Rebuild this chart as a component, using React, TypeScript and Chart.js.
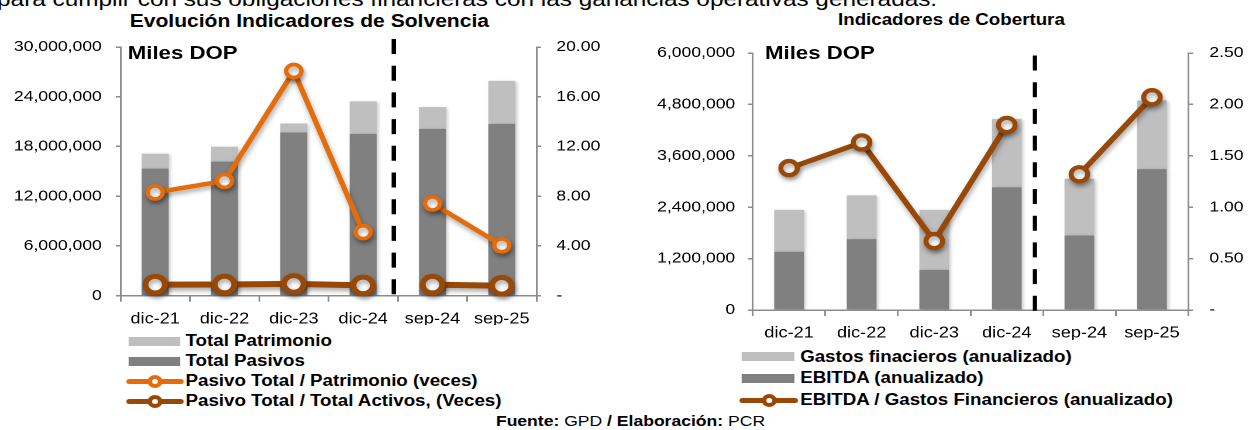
import React, { useEffect, useRef } from 'react';
import { Chart, registerables } from 'chart.js';

Chart.register(...registerables);

// ---------- DATA ----------
const CATEGORIES = ['dic-21', 'dic-22', 'dic-23', 'dic-24', 'sep-24', 'sep-25'];
const BREAK_AFTER = 3; // series are split between dic-24 and sep-24

// Evolución Indicadores de Solvencia (Miles DOP)
const TOTAL_PASIVOS = [15330000, 16170000, 19690000, 19520000, 20120000, 20720000];
const TOTAL_PATRIMONIO = [1800000, 1790000, 1080000, 3920000, 2630000, 5200000];
const PASIVO_PATRIMONIO = [8.3, 9.23, 18.07, 5.11, 7.42, 4.05];
const PASIVO_ACTIVOS = [0.89, 0.9, 0.95, 0.83, 0.89, 0.8];
const LEFT_Y_TICKS = [0, 6000000, 12000000, 18000000, 24000000, 30000000];
const LEFT_Y1_TICKS = [0, 4, 8, 12, 16, 20];

// Indicadores de Cobertura (Miles DOP)
const EBITDA = [1361000, 1656000, 937000, 2866000, 1739000, 3290000];
const GASTOS_FIN = [976000, 1021000, 1400000, 1596000, 1324000, 1600000];
const COBERTURA = [1.38, 1.63, 0.67, 1.8, 1.32, 2.07];
const RIGHT_Y_TICKS = [0, 1200000, 2400000, 3600000, 4800000, 6000000];
const RIGHT_Y1_TICKS = [0, 0.5, 1, 1.5, 2, 2.5];

// ---------- STYLE ----------
const K = 1.17; // horizontal stretch of the original picture
const FONT = "'Liberation Sans', Arial, Helvetica, sans-serif";
const AXIS = '#8C8C8C';
const C_LIGHT = '#BFBFBF';
const C_DARK = '#808080';
const C_ORANGE = '#E46C0A';
const C_BROWN = '#984807';

Chart.defaults.font.family = FONT;
Chart.defaults.color = '#000';

const fmtInt = (v: number) => String(Math.round(v)).replace(/\B(?=(\d{3})+(?!\d))/g, ',');

const separatorPlugin = {
  id: 'separator',
  afterDraw(chart: any, _args: any, opts: any) {
    if (!opts || !opts.enabled) return;
    const x = chart.scales.x;
    const px = (x.getPixelForValue(opts.after) + x.getPixelForValue(opts.after + 1)) / 2 + opts.dx;
    const ctx = chart.ctx;
    ctx.save();
    ctx.strokeStyle = '#000';
    ctx.lineWidth = opts.width;
    ctx.setLineDash(opts.dash);
    ctx.beginPath();
    ctx.moveTo(px, chart.chartArea.top + opts.top);
    ctx.lineTo(px, chart.chartArea.bottom + opts.bottom);
    ctx.stroke();
    ctx.restore();
  },
};

const shadowPlugin = {
  id: 'softShadow',
  beforeDatasetDraw(chart: any, args: any) {
    const ds = chart.data.datasets[args.index];
    const r = chart.currentDevicePixelRatio || 1;
    const ctx = chart.ctx;
    ctx.save();
    if (ds.type === 'line') {
      ctx.shadowColor = 'rgba(0,0,0,0.35)';
      ctx.shadowBlur = 5 * r;
      ctx.shadowOffsetX = 1 * r;
      ctx.shadowOffsetY = 3 * r;
    } else {
      ctx.shadowColor = 'rgba(0,0,0,0.22)';
      ctx.shadowBlur = 3 * r;
      ctx.shadowOffsetX = 1.5 * r;
      ctx.shadowOffsetY = 1 * r;
    }
  },
  afterDatasetDraw(chart: any) {
    chart.ctx.restore();
  },
};

const gapSegment = {
  borderColor: (ctx: any) => (ctx.p0DataIndex === BREAK_AFTER ? 'rgba(0,0,0,0)' : undefined),
};

interface Frame {
  width: number;
  height: number;
  yWidth: number;
  y1Width: number;
  top: number;
  xHeight: number;
  yPad: number;
  y1Pad: number;
  sep: { dx: number; top: number; bottom: number; width: number; dash: number[] };
}

function axisCommon() {
  return {
    grid: { display: true, drawOnChartArea: false, drawTicks: true, tickLength: 4, color: AXIS, lineWidth: 1.5 },
    border: { display: true, color: AXIS, width: 1.5 },
  };
}

function makeChart(
  canvas: HTMLCanvasElement,
  f: Frame,
  datasets: any[],
  yTicks: number[],
  y1Ticks: number[],
  yFmt: (v: number) => string,
  y1Fmt: (v: number) => string
) {
  return new Chart(canvas, {
    type: 'bar',
    data: { labels: CATEGORIES, datasets },
    plugins: [separatorPlugin, shadowPlugin],
    options: {
      responsive: false,
      animation: false,
      devicePixelRatio: 2,
      layout: { padding: { top: f.top, left: 0, right: 0, bottom: 0 } },
      plugins: {
        legend: { display: false },
        tooltip: { enabled: false },
        title: { display: false },
        separator: { enabled: true, after: BREAK_AFTER, ...f.sep },
      } as any,
      scales: {
        x: {
          type: 'category',
          stacked: true,
          offset: true,
          grid: { display: true, drawOnChartArea: false, drawTicks: true, tickLength: 6, color: AXIS, lineWidth: 1.5, offset: true },
          border: { display: true, color: AXIS, width: 1.5 },
          ticks: { font: { size: 15.5 }, padding: 8, maxRotation: 0, autoSkip: false, color: '#000' },
          afterFit: (s: any) => {
            s.height = f.xHeight;
          },
        },
        y: {
          position: 'left',
          stacked: true,
          min: yTicks[0],
          max: yTicks[yTicks.length - 1],
          ...axisCommon(),
          ticks: { font: { size: 15 }, padding: f.yPad, color: '#000', callback: (v: any) => yFmt(Number(v)) },
          afterBuildTicks: (s: any) => {
            s.ticks = yTicks.map((v) => ({ value: v }));
          },
          afterFit: (s: any) => {
            s.width = f.yWidth;
          },
        },
        y1: {
          position: 'right',
          min: y1Ticks[0],
          max: y1Ticks[y1Ticks.length - 1],
          ...axisCommon(),
          ticks: { font: { size: 15 }, padding: f.y1Pad, color: '#000', callback: (v: any) => y1Fmt(Number(v)) },
          afterBuildTicks: (s: any) => {
            s.ticks = y1Ticks.map((v) => ({ value: v }));
          },
          afterFit: (s: any) => {
            s.width = f.y1Width;
          },
        },
      } as any,
    },
  });
}

const LEFT_FRAME: Frame = {
  width: 530,
  height: 300,
  yWidth: 103,
  y1Width: 71.5,
  top: 20.2,
  xHeight: 29.3,
  yPad: 12,
  y1Pad: 13,
  sep: { dx: -3.4, top: -8, bottom: 7.5, width: 3.8, dash: [15, 11.7] },
};

const RIGHT_FRAME: Frame = {
  width: 540,
  height: 310,
  yWidth: 113.4,
  y1Width: 54.4,
  top: 15.7,
  xHeight: 30,
  yPad: 11,
  y1Pad: 14,
  sep: { dx: -7, top: 2.5, bottom: 7, width: 3.6, dash: [15, 11.7] },
};

function leftDatasets() {
  return [
    {
      type: 'line',
      label: 'Pasivo Total / Patrimonio (veces)',
      data: PASIVO_PATRIMONIO,
      yAxisID: 'y1',
      borderColor: C_ORANGE,
      borderWidth: 4.5,
      pointRadius: 6.5,
      pointBorderWidth: 3.7,
      pointBackgroundColor: '#fff',
      pointBorderColor: C_ORANGE,
      segment: gapSegment,
      order: 0,
      clip: false,
    },
    {
      type: 'line',
      label: 'Pasivo Total / Total Activos, (Veces)',
      data: PASIVO_ACTIVOS,
      yAxisID: 'y1',
      borderColor: C_BROWN,
      borderWidth: 6,
      pointRadius: 8.3,
      pointBorderWidth: 5,
      pointBackgroundColor: '#fff',
      pointBorderColor: C_BROWN,
      segment: gapSegment,
      order: 0,
      clip: false,
    },
    {
      type: 'bar',
      label: 'Total Pasivos',
      data: TOTAL_PASIVOS,
      yAxisID: 'y',
      stack: 's',
      backgroundColor: C_DARK,
      barPercentage: 0.39,
      categoryPercentage: 1,
      order: 1,
    },
    {
      type: 'bar',
      label: 'Total Patrimonio',
      data: TOTAL_PATRIMONIO,
      yAxisID: 'y',
      stack: 's',
      backgroundColor: C_LIGHT,
      barPercentage: 0.39,
      categoryPercentage: 1,
      order: 1,
    },
  ];
}

function rightDatasets() {
  return [
    {
      type: 'line',
      label: 'EBITDA / Gastos Financieros (anualizado)',
      data: COBERTURA,
      yAxisID: 'y1',
      borderColor: C_BROWN,
      borderWidth: 5,
      pointRadius: 7.1,
      pointBorderWidth: 4.2,
      pointBackgroundColor: '#fff',
      pointBorderColor: C_BROWN,
      segment: gapSegment,
      order: 0,
      clip: false,
    },
    {
      type: 'bar',
      label: 'EBITDA (anualizado)',
      data: EBITDA,
      yAxisID: 'y',
      stack: 's',
      backgroundColor: C_DARK,
      barPercentage: 0.41,
      categoryPercentage: 1,
      order: 1,
    },
    {
      type: 'bar',
      label: 'Gastos finacieros (anualizado)',
      data: GASTOS_FIN,
      yAxisID: 'y',
      stack: 's',
      backgroundColor: C_LIGHT,
      barPercentage: 0.41,
      categoryPercentage: 1,
      order: 1,
    },
  ];
}

function ChartCanvas(props: { left: number; top: number; frame: Frame; build: (c: HTMLCanvasElement) => Chart }) {
  const ref = useRef<HTMLCanvasElement>(null);
  useEffect(() => {
    if (!ref.current) return;
    const chart = props.build(ref.current);
    return () => chart.destroy();
  }, []);
  return (
    <canvas
      ref={ref}
      width={props.frame.width}
      height={props.frame.height}
      style={{ position: 'absolute', left: props.left, top: props.top, width: props.frame.width, height: props.frame.height }}
    />
  );
}

type LegendItem = { label: string; color: string; kind: 'box' | 'line' };

function Legend(props: { items: LegendItem[]; boxLeft: number; lineLeft: number; textLeft: number; firstY: number; step: number }) {
  const boxW = props.textLeft - props.boxLeft - 4.5;
  const lineW = props.textLeft - props.lineLeft - 1.5;
  return (
    <>
      {props.items.map((it, i) => {
        const cy = props.firstY + i * props.step;
        return (
          <React.Fragment key={it.label}>
            {it.kind === 'box' ? (
              <span style={{ position: 'absolute', left: props.boxLeft, top: cy - 4.5, width: boxW, height: 9, background: it.color }} />
            ) : (
              <>
                <span
                  style={{ position: 'absolute', left: props.lineLeft, top: cy - 2.5, width: lineW, height: 5, background: it.color, borderRadius: 2.5 }}
                />
                <span
                  style={{
                    position: 'absolute',
                    left: props.lineLeft + lineW / 2 - 6.5,
                    top: cy - 6.5,
                    width: 13,
                    height: 13,
                    boxSizing: 'border-box',
                    border: `4px solid ${it.color}`,
                    borderRadius: '50%',
                    background: '#fff',
                  }}
                />
              </>
            )}
            <span
              style={{
                position: 'absolute',
                left: props.textLeft,
                top: cy - 10,
                fontSize: 16,
                lineHeight: '20px',
                fontWeight: 'bold',
                whiteSpace: 'nowrap',
              }}
            >
              {it.label}
            </span>
          </React.Fragment>
        );
      })}
    </>
  );
}

const LEFT_LEGEND: LegendItem[] = [
  { label: 'Total Patrimonio', color: C_LIGHT, kind: 'box' },
  { label: 'Total Pasivos', color: C_DARK, kind: 'box' },
  { label: 'Pasivo Total / Patrimonio (veces)', color: C_ORANGE, kind: 'line' },
  { label: 'Pasivo Total / Total Activos, (Veces)', color: C_BROWN, kind: 'line' },
];

const RIGHT_LEGEND: LegendItem[] = [
  { label: 'Gastos finacieros (anualizado)', color: C_LIGHT, kind: 'box' },
  { label: 'EBITDA (anualizado)', color: C_DARK, kind: 'box' },
  { label: 'EBITDA / Gastos Financieros (anualizado)', color: C_BROWN, kind: 'line' },
];

export default function App() {
  const W = 1255 / K;
  return (
    <div
      style={{
        position: 'absolute',
        left: 0,
        top: 0,
        width: W,
        height: 430,
        overflow: 'hidden',
        transform: `scaleX(${K})`,
        transformOrigin: '0 0',
        fontFamily: FONT,
        color: '#000',
        background: '#fff',
      }}
    >
      <div style={{ position: 'absolute', left: -2.5, top: -11.7, fontSize: 20.8, lineHeight: '22px', whiteSpace: 'nowrap' }}>
        para cumplir con sus obligaciones financieras con las ganancias operativas generadas.
      </div>

      <div style={{ position: 'absolute', left: 264.4 - 200, width: 400, top: 10.8, fontSize: 18, lineHeight: '20px', fontWeight: 'bold', textAlign: 'center', whiteSpace: 'nowrap' }}>
        Evolución Indicadores de Solvencia
      </div>
      <div style={{ position: 'absolute', left: 813.2 - 200, width: 400, top: 10.5, fontSize: 16, lineHeight: '18px', fontWeight: 'bold', textAlign: 'center', whiteSpace: 'nowrap' }}>
        Indicadores de Cobertura
      </div>

      <ChartCanvas
        left={0}
        top={25}
        frame={LEFT_FRAME}
        build={(c) =>
          makeChart(c, LEFT_FRAME, leftDatasets(), LEFT_Y_TICKS, LEFT_Y1_TICKS, fmtInt, (v) => (v === 0 ? '-' : v.toFixed(2)))
        }
      />
      <ChartCanvas
        left={530}
        top={30}
        frame={RIGHT_FRAME}
        build={(c) =>
          makeChart(c, RIGHT_FRAME, rightDatasets(), RIGHT_Y_TICKS, RIGHT_Y1_TICKS, fmtInt, (v) => (v === 0 ? '-' : v.toFixed(2)))
        }
      />

      <div style={{ position: 'absolute', left: 109.2, top: 41.7, fontSize: 19, lineHeight: '22px', fontWeight: 'bold', whiteSpace: 'nowrap' }}>
        Miles DOP
      </div>
      <div style={{ position: 'absolute', left: 653.8, top: 41.7, fontSize: 19, lineHeight: '22px', fontWeight: 'bold', whiteSpace: 'nowrap' }}>
        Miles DOP
      </div>

      <Legend items={LEFT_LEGEND} boxLeft={110.3} lineLeft={107.5} textLeft={158.6} firstY={341} step={20} />
      <Legend items={RIGHT_LEGEND} boxLeft={633.8} lineLeft={632.4} textLeft={683.9} firstY={356.7} step={21.65} />

      <div style={{ position: 'absolute', left: 538.9 - 250, width: 500, top: 411.7, fontSize: 15, lineHeight: '17px', textAlign: 'center', whiteSpace: 'nowrap' }}>
        <b>Fuente:</b> GPD <b>/ Elaboración:</b> PCR
      </div>
    </div>
  );
}
